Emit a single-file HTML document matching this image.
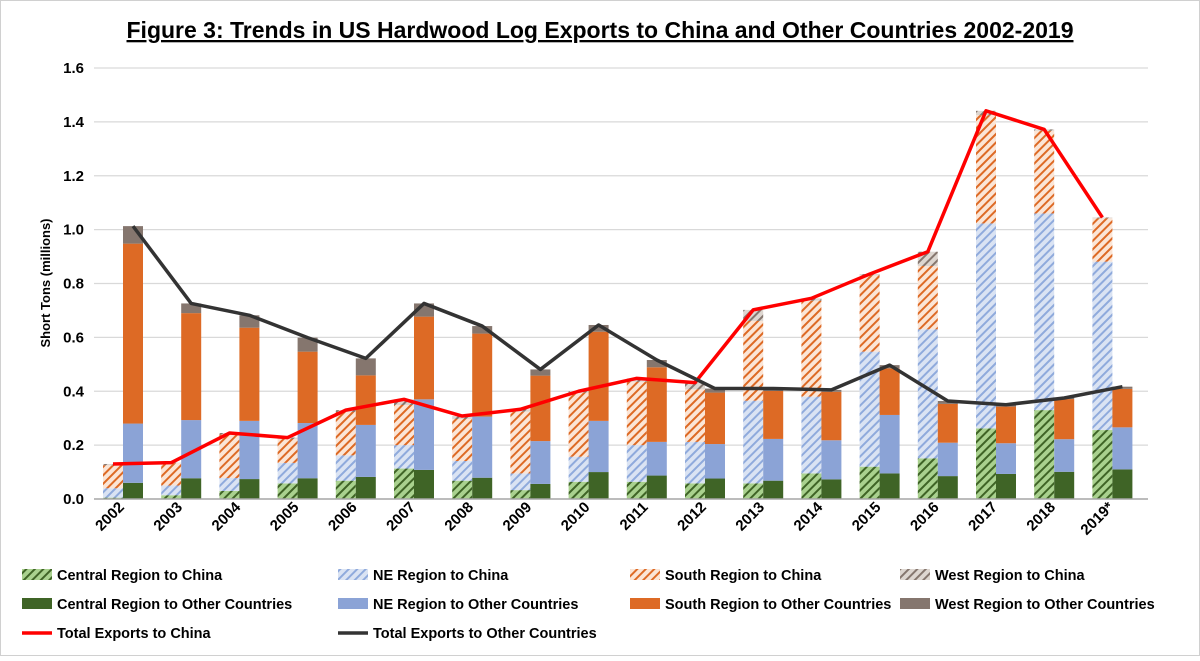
<!DOCTYPE html>
<html><head><meta charset="utf-8">
<style>
body{margin:0;background:#fff;}
svg text{font-family:"Liberation Sans",Arial,sans-serif;}
</style></head>
<body>
<svg id="chart" width="1200" height="656" viewBox="0 0 1200 656" xmlns="http://www.w3.org/2000/svg">
<defs>
<pattern id="pc" width="6" height="6" patternUnits="userSpaceOnUse" patternTransform="rotate(45)"><rect width="6" height="6" fill="#a9d18e"/><rect width="2" height="6" fill="#3f6426"/></pattern>
<pattern id="pn" width="6" height="6" patternUnits="userSpaceOnUse" patternTransform="rotate(45)"><rect width="6" height="6" fill="#dae3f3"/><rect width="2" height="6" fill="#8faadc"/></pattern>
<pattern id="ps" width="6" height="6" patternUnits="userSpaceOnUse" patternTransform="rotate(45)"><rect width="6" height="6" fill="#fbe5d6"/><rect width="2" height="6" fill="#dd6a25"/></pattern>
<pattern id="pw" width="6" height="6" patternUnits="userSpaceOnUse" patternTransform="rotate(45)"><rect width="6" height="6" fill="#ddd6d0"/><rect width="2" height="6" fill="#85766e"/></pattern>
</defs>
<rect x="0.5" y="0.5" width="1199" height="655" fill="#fff" stroke="#d0d0d0"/>
<text x="600" y="38" text-anchor="middle" font-size="23" font-weight="bold" text-decoration="underline" fill="#000">Figure 3: Trends in US Hardwood Log Exports to China and Other Countries 2002-2019</text>
<text transform="translate(50,283) rotate(-90)" text-anchor="middle" font-size="13" font-weight="bold" fill="#000">Short Tons (millions)</text>
<g id="grid"></g><g id="bars"></g><g id="lines"></g><g id="axes"></g><g id="legend"></g>
</svg>
<script>
const years=["2002","2003","2004","2005","2006","2007","2008","2009","2010","2011","2012","2013","2014","2015","2016","2017","2018","2019*"];
const chinaCentral=[.005,.014,.03,.058,.068,.113,.068,.033,.064,.064,.058,.058,.095,.12,.151,.262,.33,.256];
const chinaNE=[.035,.036,.048,.076,.094,.087,.073,.062,.093,.136,.154,.307,.285,.427,.479,.761,.73,.625];
const chinaSouth=[.085,.083,.162,.089,.161,.149,.156,.229,.238,.235,.195,.296,.356,.283,.235,.402,.307,.161];
const chinaWest=[.005,.002,.005,.005,.007,.021,.011,.009,.005,.013,.025,.041,.009,.005,.053,.016,.005,.003];
const otherCentral=[.06,.077,.074,.077,.082,.108,.079,.056,.1,.087,.076,.068,.073,.095,.085,.093,.101,.11];
const otherNE=[.22,.216,.216,.205,.193,.262,.227,.159,.19,.125,.128,.155,.145,.217,.124,.114,.121,.156];
const otherSouth=[.668,.397,.346,.265,.184,.307,.308,.243,.331,.277,.191,.178,.18,.173,.144,.136,.149,.143];
const otherWest=[.065,.036,.046,.052,.063,.049,.028,.023,.025,.027,.015,.009,.007,.012,.011,.007,.004,.008];
const yTicks=[0,0.2,0.4,0.6,0.8,1.0,1.2,1.4,1.6];

const NS="http://www.w3.org/2000/svg";
const x0=94,pitch=58.2,bw=20,yBase=499,yTop=68,yMax=1.6;
function y(v){return yBase-(v/yMax)*(yBase-yTop);}
function xChina(i){return x0+9+i*pitch;}
function xOther(i){return x0+29+i*pitch;}
function mk(tag,attrs,parent){const e=document.createElementNS(NS,tag);for(const k in attrs)e.setAttribute(k,attrs[k]);parent.appendChild(e);return e;}
const grid=document.getElementById('grid'),bars=document.getElementById('bars'),lines=document.getElementById('lines'),axes=document.getElementById('axes'),legend=document.getElementById('legend');
yTicks.forEach(t=>{
  if(t>0){const g=mk('line',{x1:x0,x2:1148,y1:y(t),y2:y(t),stroke:'#d9d9d9','stroke-width':1.3},grid);
  
  }
  const tx=mk('text',{x:84,y:y(t)+5,'text-anchor':'end','font-size':15,'font-weight':'bold',fill:'#000'},axes);
  tx.textContent=t.toFixed(1);
  
  
});
const base=mk('line',{x1:x0,x2:1148,y1:yBase,y2:yBase,stroke:'#a6a6a6','stroke-width':1.5},axes);


const chinaSeries=[[chinaCentral,'url(#pc)','bar-central-china'],[chinaNE,'url(#pn)','bar-ne-china'],[chinaSouth,'url(#ps)','bar-south-china'],[chinaWest,'url(#pw)','bar-west-china']];
const otherSeries=[[otherCentral,'#3f6426','bar-central-other'],[otherNE,'#8ba3d6','bar-ne-other'],[otherSouth,'#dd6a25','bar-south-other'],[otherWest,'#85766e','bar-west-other']];
const totC=[],totO=[];
years.forEach((yr,i)=>{
  let c=0;
  chinaSeries.forEach(s=>{const v=s[0][i];const r=mk('rect',{x:xChina(i),y:y(c+v),width:bw,height:y(c)-y(c+v),fill:s[1]},bars);
    
    c+=v;});
  totC.push(c);
  let o=0;
  otherSeries.forEach(s=>{const v=s[0][i];const r=mk('rect',{x:xOther(i),y:y(o+v),width:bw,height:y(o)-y(o+v),fill:s[1]},bars);
    
    o+=v;});
  totO.push(o);
  const lx=xOther(i)+2,ly=508;
  const t=mk('text',{x:lx,y:ly,'text-anchor':'end','font-size':15,'font-weight':'bold',fill:'#000',transform:`rotate(-45 ${lx} ${ly})`},axes);
  t.textContent=yr;
  
  
});
const pc=mk('polyline',{points:totC.map((v,i)=>(xChina(i)+bw/2)+','+y(v)).join(' '),fill:'none',stroke:'#ff0000','stroke-width':3.5,'stroke-linejoin':'round'},lines);


const po=mk('polyline',{points:totO.map((v,i)=>(xOther(i)+bw/2)+','+y(v)).join(' '),fill:'none',stroke:'#333333','stroke-width':3.5,'stroke-linejoin':'round'},lines);


const legItems=[
 ['Central Region to China','url(#pc)',22,575,'rect'],['NE Region to China','url(#pn)',338,575,'rect'],['South Region to China','url(#ps)',630,575,'rect'],['West Region to China','url(#pw)',900,575,'rect'],
 ['Central Region to Other Countries','#3f6426',22,604,'rect'],['NE Region to Other Countries','#8ba3d6',338,604,'rect'],['South Region to Other Countries','#dd6a25',630,604,'rect'],['West Region to Other Countries','#85766e',900,604,'rect'],
 ['Total Exports to China','#ff0000',22,633,'line'],['Total Exports to Other Countries','#333333',338,633,'line']];
legItems.forEach(it=>{
  const g=mk('g',{},legend);
  
  
  if(it[4]==='rect')mk('rect',{x:it[2],y:it[3]-6,width:30,height:11,fill:it[1]},g);
  else mk('line',{x1:it[2],x2:it[2]+30,y1:it[3],y2:it[3],stroke:it[1],'stroke-width':3.5},g);
  const t=mk('text',{x:it[2]+35,y:it[3]+5,'font-size':14.5,'font-weight':'bold',fill:'#000'},g);
  t.textContent=it[0];
});
</script>
</body></html>
